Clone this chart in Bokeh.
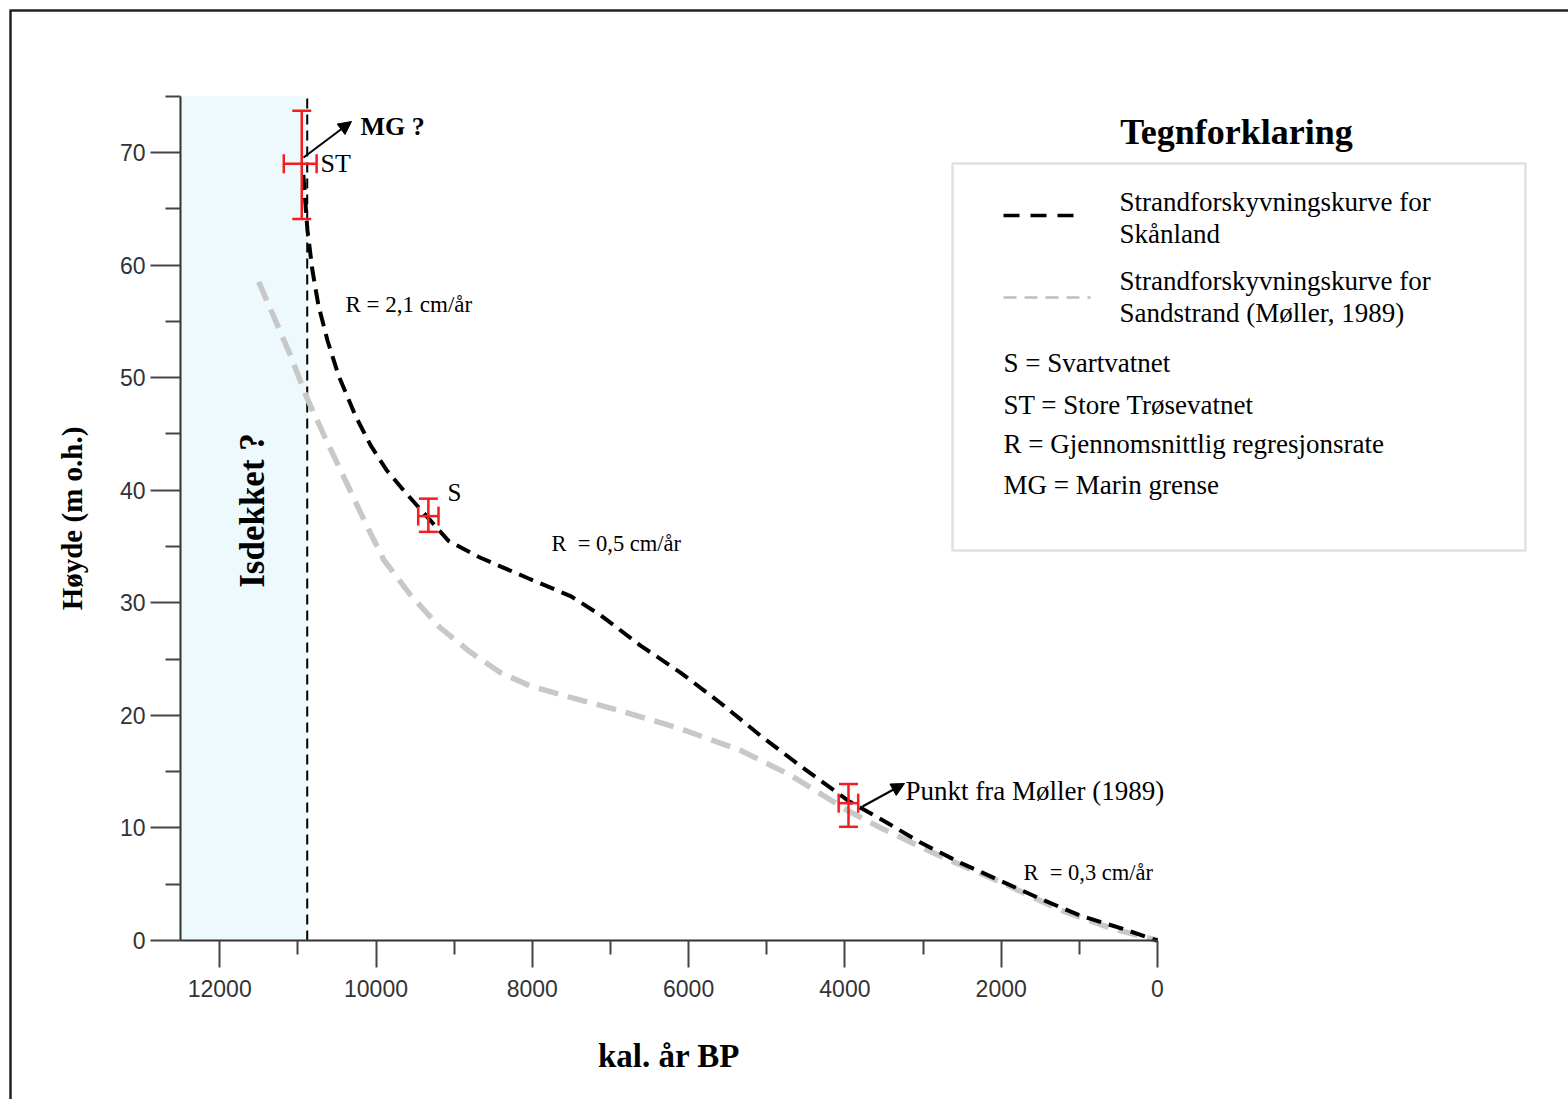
from bokeh.plotting import figure
from bokeh.models import (Range1d, LinearAxis, FixedTicker, Whisker, TeeHead, Arrow,
                          NormalHead, Label, ColumnDataSource, BoxAnnotation)
from bokeh.embed import file_html
from bokeh.resources import INLINE

# ---------------- data ----------------
# Skånland shore-displacement curve (cal. yr BP, m a.s.l.)
skan_year = [10930, 10877, 10813, 10736, 10621, 10480, 10262, 10070, 9866, 9648, 9431,
             9072, 8663, 8061, 7511, 7127, 6615, 6104, 5592, 5080, 4568, 3954, 3544,
             3033, 2521, 2009, 1497, 985, 473, 0]
skan_h = [68.0, 63.1, 59.5, 56.4, 53.3, 50.2, 46.6, 44.0, 41.8, 40.0, 38.3,
          35.5, 34.0, 32.2, 30.6, 28.9, 26.2, 23.8, 21.1, 18.2, 15.5, 12.4, 10.8,
          8.7, 6.9, 5.3, 3.7, 2.2, 1.1, 0.0]

# Sandstrand curve (Møller, 1989)
sand_year = [11500, 11300, 11090, 10890, 10660, 10400, 10150, 9900, 9560, 9180, 8790,
             8410, 8020, 7510, 6870, 6100, 5340, 4700, 3954, 3540, 2780, 2010, 1240, 600, 0]
sand_h = [58.5, 55.3, 51.9, 48.3, 44.8, 41.0, 37.3, 33.8, 30.7, 27.8, 25.6,
          23.8, 22.6, 21.6, 20.4, 18.8, 16.9, 14.7, 11.5, 10.0, 7.5, 5.2, 2.7, 1.1, 0.0]

# dated points with error bars
pt_name = ["ST", "S", "Møller"]
pt_year = [10950, 9330, 3954]
pt_h = [69.0, 37.7, 12.2]
pt_h_lo = [64.1, 36.3, 10.1]
pt_h_hi = [73.7, 39.25, 13.9]
pt_year_lo = [11180, 9460, 4080]
pt_year_hi = [10760, 9200, 3830]

ice_start, ice_end = 12500, 10880   # "Isdekket ?" zone

x_ticks = [0, 2000, 4000, 6000, 8000, 10000, 12000]
x_minor = [1000, 3000, 5000, 7000, 9000, 11000]
y_ticks = [0, 10, 20, 30, 40, 50, 60, 70]
y_minor = [5, 15, 25, 35, 45, 55, 65, 75]

# ---------------- layout (canvas pixels) ----------------
W, H = 1568, 1099
PX_X0, PX_PER_YEAR = 1157, 0.07815
PX_Y0, PX_PER_M = 940, 11.257


def X(px):
    return (PX_X0 - px) / PX_PER_YEAR


def Y(py):
    return (PX_Y0 - py) / PX_PER_M


SERIF = "Liberation Serif"
SANS = "Liberation Sans"
RED = "#f41c1c"

p = figure(width=W, height=H, output_backend="svg", toolbar_location=None,
           x_range=Range1d(X(0), X(W)), y_range=Range1d(Y(H), Y(0)),
           min_border=0, x_axis_type=None, y_axis_type=None)
p.outline_line_color = None
p.background_fill_color = "white"
p.border_fill_color = "white"

# outer frame (top + left visible)
p.line([X(9), X(W)], [Y(10), Y(10)], line_color="#222222", line_width=2.5)
p.line([X(10), X(10)], [Y(10), Y(H)], line_color="#222222", line_width=2.5)

# ice-covered zone
p.quad(left=[ice_start], right=[ice_end], bottom=[0], top=[75],
       fill_color="#eef9fd", line_color=None)
p.line([ice_end, ice_end], [0, 75], line_color="black", line_width=2, line_dash="10 6")

# curves
sand = p.line(sand_year, sand_h, line_color="#c8c8c8", line_width=5.5, line_dash="20 10")
skan = p.line(skan_year, skan_h, line_color="black", line_width=4, line_dash="15 8")

# axes
xaxis = LinearAxis(fixed_location=0, bounds=(0, 12500),
                   ticker=FixedTicker(ticks=x_ticks, minor_ticks=x_minor))
yaxis = LinearAxis(fixed_location=12500, bounds=(0, 75),
                   ticker=FixedTicker(ticks=y_ticks, minor_ticks=y_minor))
for ax in (xaxis, yaxis):
    ax.axis_line_color = "#333333"
    ax.axis_line_width = 2
    ax.major_tick_line_color = "#444444"
    ax.major_tick_line_width = 2
    ax.minor_tick_line_color = "#444444"
    ax.minor_tick_line_width = 2
    ax.major_tick_in = 0
    ax.minor_tick_in = 0
    ax.major_label_text_font = SANS
    ax.major_label_text_font_size = "23px"
    ax.major_label_text_color = "#333333"
    ax.axis_label_text_font = SERIF
    ax.axis_label_text_font_style = "bold"
    ax.axis_label_text_color = "black"
xaxis.major_tick_out = 27
xaxis.minor_tick_out = 14
xaxis.major_label_standoff = 12
xaxis.axis_label = "kal. år BP"
xaxis.axis_label_text_font_size = "33px"
xaxis.axis_label_standoff = 38
yaxis.major_tick_out = 30
yaxis.minor_tick_out = 15
yaxis.major_label_standoff = 5
yaxis.axis_label = "Høyde (m o.h.)"
yaxis.axis_label_text_font_size = "29px"
yaxis.axis_label_standoff = 29
p.add_layout(xaxis, "below")
p.add_layout(yaxis, "left")

# error bars
src = ColumnDataSource(dict(x=pt_year, y=pt_h, ylo=pt_h_lo, yhi=pt_h_hi,
                            xlo=pt_year_lo, xhi=pt_year_hi))


def tee():
    return TeeHead(size=19, line_color=RED, line_width=2.5)


p.add_layout(Whisker(source=src, base="x", lower="ylo", upper="yhi", dimension="height",
                     line_color=RED, line_width=2.5, lower_head=tee(), upper_head=tee(),
                     level="overlay"))
p.add_layout(Whisker(source=src, base="y", lower="xlo", upper="xhi", dimension="width",
                     line_color=RED, line_width=2.5, lower_head=tee(), upper_head=tee(),
                     level="overlay"))

# arrows
p.add_layout(Arrow(x_start=X(303), y_start=Y(157), x_end=X(351), y_end=Y(121),
                   line_width=2, line_color="black", level="overlay",
                   end=NormalHead(size=13, fill_color="black", line_color="black")))
p.add_layout(Arrow(x_start=X(862), y_start=Y(806), x_end=X(904), y_end=Y(783),
                   line_width=2, line_color="black", level="overlay",
                   end=NormalHead(size=13, fill_color="black", line_color="black")))


def lab(txt, px, py, size, bold=False, align="left", angle=0.0):
    p.add_layout(Label(x=X(px), y=Y(py), text=txt, text_font=SERIF,
                       text_font_size=f"{size}px", text_font_style="bold" if bold else "normal",
                       text_align=align, text_baseline="middle", text_color="black",
                       angle=angle))


lab("Isdekket ?", 252, 510, 35, bold=True, align="center", angle=1.5708)
lab("MG ?", 360, 126, 26, bold=True)
lab("ST", 320, 163, 26)
lab("R = 2,1 cm/år", 345, 304, 23)
lab("S", 447, 492, 25)
lab("R\u00a0 = 0,5 cm/år", 551, 543, 22.5)
lab("Punkt fra Møller (1989)", 905, 790, 27)
lab("R\u00a0 = 0,3 cm/år", 1023, 872, 22.5)

# legend
lab("Tegnforklaring", 1236, 131, 36, bold=True, align="center")
p.add_layout(BoxAnnotation(left=X(952), right=X(1525), top=Y(163), bottom=Y(550),
                           fill_color=None, line_color="#9a9a9a", line_width=2.5))
p.line([X(1003), X(1079)], [Y(215), Y(215)], line_color="black", line_width=3.5,
       line_dash="16 11")
p.line([X(1003), X(1090)], [Y(297), Y(297)], line_color="#bdbdbd", line_width=2.5,
       line_dash="13 8")
lab("Strandforskyvningskurve for", 1119, 201, 27)
lab("Skånland", 1119, 233, 27)
lab("Strandforskyvningskurve for", 1119, 280, 27)
lab("Sandstrand (Møller, 1989)", 1119, 312, 27)
lab("S = Svartvatnet", 1003, 362, 27)
lab("ST = Store Trøsevatnet", 1003, 404, 27)
lab("R = Gjennomsnittlig regresjonsrate", 1003, 443, 27)
lab("MG = Marin grense", 1003, 484, 27)

open("out.html", "w").write(file_html(p, INLINE))
